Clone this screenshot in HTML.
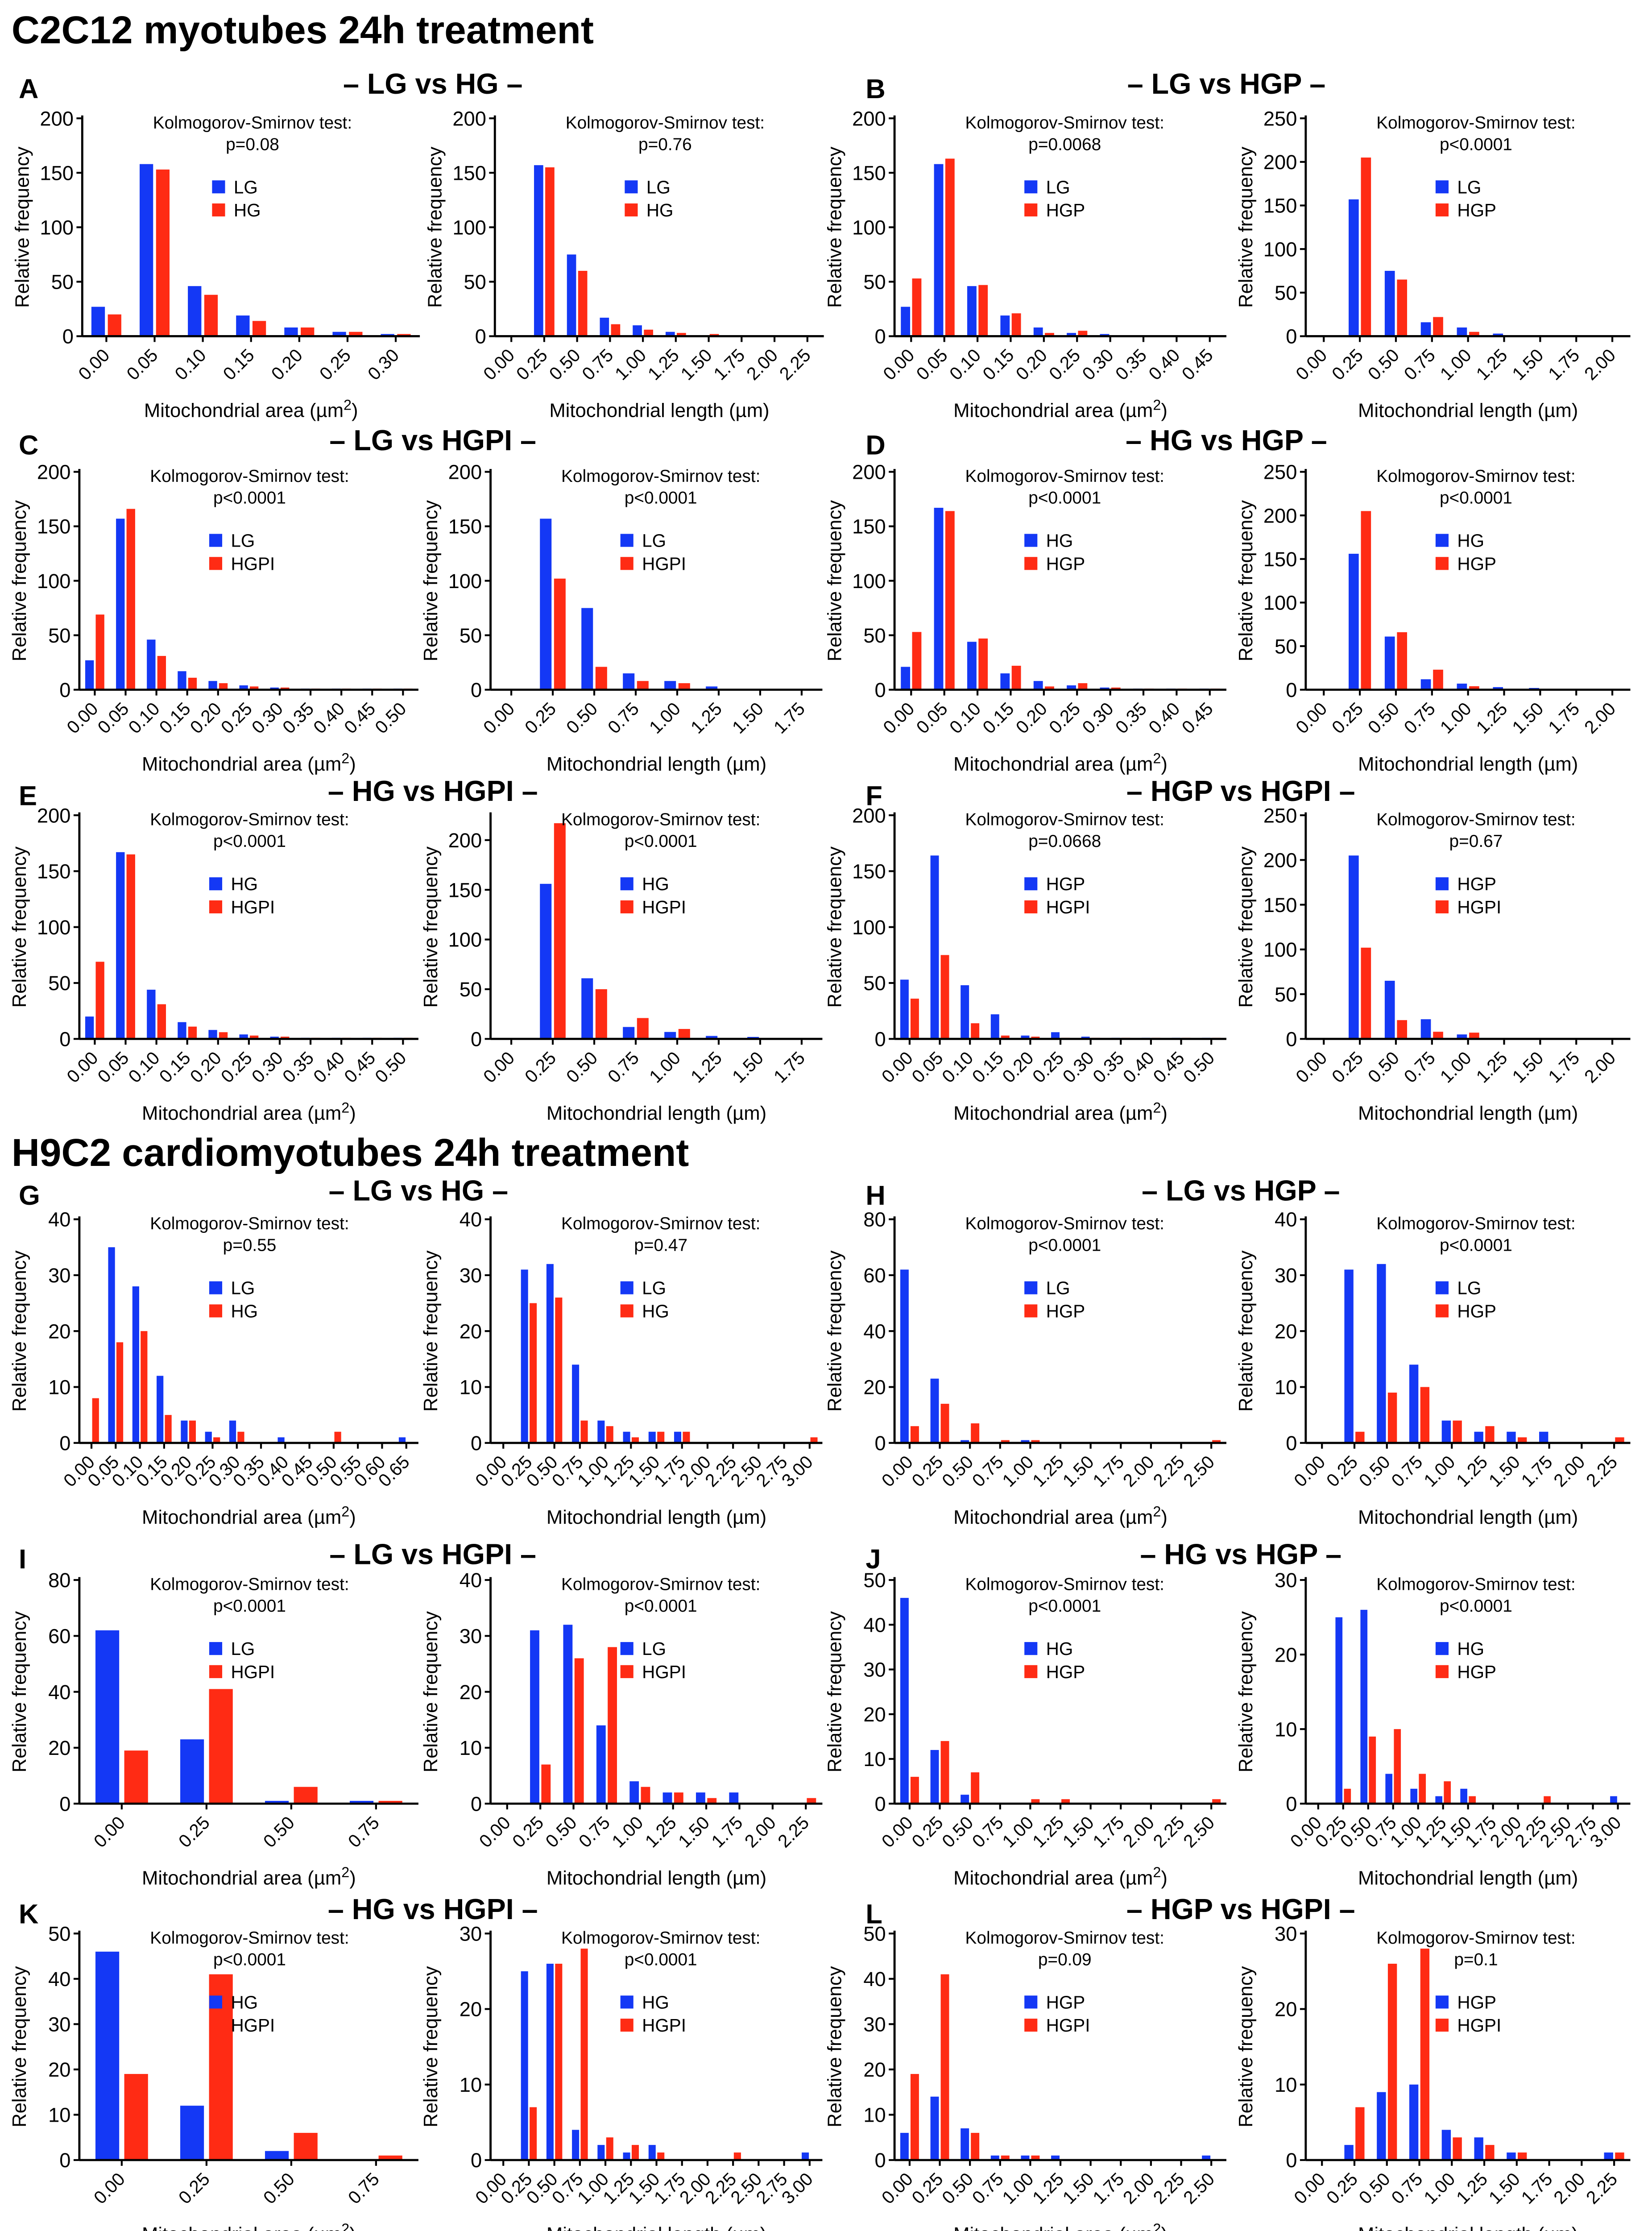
<!DOCTYPE html>
<html><head><meta charset="utf-8">
<style>
html,body{margin:0;padding:0;background:#fff;width:3703px;height:5090px;overflow:hidden;}
svg{display:block;font-family:"Liberation Sans",Arial,sans-serif;}
</style></head>
<body>
<svg id="fig" xmlns="http://www.w3.org/2000/svg" width="3703" height="5090" viewBox="0 0 1145 1574" preserveAspectRatio="none">
<text x="8" y="30" font-size="27" font-weight="bold">C2C12 myotubes 24h treatment</text>
<text x="8" y="808" font-size="27" font-weight="bold">H9C2 cardiomyotubes 24h treatment</text>
</svg>
<script>
// ---- data arrays ----
const catsArea10=["0.00","0.05","0.10","0.15","0.20","0.25","0.30","0.35","0.40","0.45"];
const catsArea11=["0.00","0.05","0.10","0.15","0.20","0.25","0.30","0.35","0.40","0.45","0.50"];
const catsA1=["0.00","0.05","0.10","0.15","0.20","0.25","0.30"];
const catsG1=["0.00","0.05","0.10","0.15","0.20","0.25","0.30","0.35","0.40","0.45","0.50","0.55","0.60","0.65"];
const catsLen175=["0.00","0.25","0.50","0.75","1.00","1.25","1.50","1.75"];
const catsLen200=["0.00","0.25","0.50","0.75","1.00","1.25","1.50","1.75","2.00"];
const catsLen225=["0.00","0.25","0.50","0.75","1.00","1.25","1.50","1.75","2.00","2.25"];
const catsLen250=["0.00","0.25","0.50","0.75","1.00","1.25","1.50","1.75","2.00","2.25","2.50"];
const catsLen300=["0.00","0.25","0.50","0.75","1.00","1.25","1.50","1.75","2.00","2.25","2.50","2.75","3.00"];
const catsArea4=["0.00","0.25","0.50","0.75"];

const blueA1=[27,158,46,19,8,4,2]; const redA1=[20,153,38,14,8,4,2];
const blueA2=[0,157,75,17,10,4,0,0,0,0]; const redA2=[0,155,60,11,6,3,2,0,0,0];
const blueB1=[27,158,46,19,8,3,2,1,1,1]; const redB1=[53,163,47,21,3,5,1,1,1,1];
const blueB2=[0,157,75,16,10,3,1,0,0]; const redB2=[0,205,65,22,5,1,0,0,0];
const blueC1=[27,157,46,17,8,4,2,1,1,1,1]; const redC1=[69,166,31,11,6,3,2,1,1,1,1];
const blueC2=[0,157,75,15,8,3,0,0]; const redC2=[0,102,21,8,6,0,0,0];
const blueD1=[21,167,44,15,8,4,2,1,1,1]; const redD1=[53,164,47,22,3,6,2,1,1,1];
const blueD2=[0,156,61,12,7,3,2,0,0]; const redD2=[0,205,66,23,4,1,0,0,0];
const blueE1=[20,167,44,15,8,4,2,1,1,1,1]; const redE1=[69,165,31,11,6,3,2,1,1,1,1];
const blueE2=[0,156,61,12,7,3,2,0]; const redE2=[0,217,50,21,10,1,0,0];
const blueF1=[53,164,48,22,3,6,2,1,1,1,1]; const redF1=[36,75,14,3,2,1,1,1,1,1,1];
const blueF2=[0,205,65,22,5,1,0,0,0]; const redF2=[0,102,21,8,7,0,0,0,0];
const blueG1=[0,35,28,12,4,2,4,0,1,0,0,0,0,1]; const redG1=[8,18,20,5,4,1,2,0,0,0,2,0,0,0];
const blueG2=[0,31,32,14,4,2,2,2,0,0,0,0,0]; const redG2=[0,25,26,4,3,1,2,2,0,0,0,0,1];
const blueH1=[62,23,1,0,1,0,0,0,0,0,0]; const redH1=[6,14,7,1,1,0,0,0,0,0,1];
const blueH2=[0,31,32,14,4,2,2,2,0,0]; const redH2=[0,2,9,10,4,3,1,0,0,1];
const blueI1=[62,23,1,1]; const redI1=[19,41,6,1];
const blueI2=[0,31,32,14,4,2,2,2,0,0]; const redI2=[0,7,26,28,3,2,1,0,0,1];
const blueJ1=[46,12,2,0,0,0,0,0,0,0,0]; const redJ1=[6,14,7,0,1,1,0,0,0,0,1];
const blueJ2=[0,25,26,4,2,1,2,0,0,0,0,0,1]; const redJ2=[0,2,9,10,4,3,1,0,0,1,0,0,0];
const blueK1=[46,12,2,0]; const redK1=[19,41,6,1];
const blueK2=[0,25,26,4,2,1,2,0,0,0,0,0,1]; const redK2=[0,7,26,28,3,2,1,0,0,1,0,0,0];
const blueL1=[6,14,7,1,1,1,0,0,0,0,1]; const redL1=[19,41,6,1,1,0,0,0,0,0,0];
const blueL2=[0,2,9,10,4,3,1,0,0,1]; const redL2=[0,7,26,28,3,2,1,0,0,1];

const pvals=["p=0.08","p=0.76","p=0.0068","p<0.0001","p<0.0001","p<0.0001","p<0.0001","p<0.0001","p<0.0001","p<0.0001","p=0.0668","p=0.67","p=0.55","p=0.47","p<0.0001","p<0.0001","p<0.0001","p<0.0001","p<0.0001","p<0.0001","p<0.0001","p<0.0001","p=0.09","p=0.1"];
const legends=[["LG","HG"],["LG","HG"],["LG","HGP"],["LG","HGP"],["LG","HGPI"],["LG","HGPI"],["HG","HGP"],["HG","HGP"],["HG","HGPI"],["HG","HGPI"],["HGP","HGPI"],["HGP","HGPI"],["LG","HG"],["LG","HG"],["LG","HGP"],["LG","HGP"],["LG","HGPI"],["LG","HGPI"],["HG","HGP"],["HG","HGP"],["HG","HGPI"],["HG","HGPI"],["HGP","HGPI"],["HGP","HGPI"]];

// ---- layout (positions, not data) ----
const rows=[[82,233],[327,478],[565,720],[845,1000],[1095,1250],[1340,1497]];
const xs=[[57,291],[343,571],[620,850],[905,1130]];
const xsB=[[55,290],[340,570],[620,850],[905,1130]];
const panels=[
 ["A1",catsA1,blueA1,redA1,200,50,0,0,1],["A2",catsLen225,blueA2,redA2,200,50,0,1,0],
 ["B1",catsArea10,blueB1,redB1,200,50,0,2,1],["B2",catsLen200,blueB2,redB2,250,50,0,3,0],
 ["C1",catsArea11,blueC1,redC1,200,50,1,0,1],["C2",catsLen175,blueC2,redC2,200,50,1,1,0],
 ["D1",catsArea10,blueD1,redD1,200,50,1,2,1],["D2",catsLen200,blueD2,redD2,250,50,1,3,0],
 ["E1",catsArea11,blueE1,redE1,200,50,2,0,1],["E2",catsLen175,blueE2,redE2,225,50,2,1,0],
 ["F1",catsArea11,blueF1,redF1,200,50,2,2,1],["F2",catsLen200,blueF2,redF2,250,50,2,3,0],
 ["G1",catsG1,blueG1,redG1,40,10,3,0,1],["G2",catsLen300,blueG2,redG2,40,10,3,1,0],
 ["H1",catsLen250,blueH1,redH1,80,20,3,2,1],["H2",catsLen225,blueH2,redH2,40,10,3,3,0],
 ["I1",catsArea4,blueI1,redI1,80,20,4,0,1],["I2",catsLen225,blueI2,redI2,40,10,4,1,0],
 ["J1",catsLen250,blueJ1,redJ1,50,10,4,2,1],["J2",catsLen300,blueJ2,redJ2,30,10,4,3,0],
 ["K1",catsArea4,blueK1,redK1,50,10,5,0,1],["K2",catsLen300,blueK2,redK2,30,10,5,1,0],
 ["L1",catsLen250,blueL1,redL1,50,10,5,2,1],["L2",catsLen225,blueL2,redL2,30,10,5,3,0]
];
const titles=[["A","– LG vs HG –",300,65],["B","– LG vs HGP –",850,65],["C","– LG vs HGPI –",300,312],["D","– HG vs HGP –",850,312],["E","– HG vs HGPI –",300,555],["F","– HGP vs HGPI –",860,555],["G","– LG vs HG –",290,832],["H","– LG vs HGP –",860,832],["I","– LG vs HGPI –",300,1084],["J","– HG vs HGP –",860,1084],["K","– HG vs HGPI –",300,1330],["L","– HGP vs HGPI –",860,1330]];

const NS="http://www.w3.org/2000/svg";
const svg=document.getElementById('fig');
function mk(tag,attrs,parent){const e=document.createElementNS(NS,tag);for(const k in attrs)e.setAttribute(k,attrs[k]);(parent||svg).appendChild(e);return e;}
const BLUE="#1438f5",RED="#ff2b14";

titles.forEach((t,i)=>{
 const col=i%2;
 const l=mk('text',{x:col?600:13,y:t[3]+3,'font-size':19,'font-weight':'bold'});
 
 
 l.textContent=t[0];
 const tt=mk('text',{x:t[2],y:t[3],'font-size':20,'font-weight':'bold','text-anchor':'middle'});
 
 
 tt.textContent=t[1];
});

panels.forEach((p,pi)=>{
 const [id,cats,blue,red,ymax,step,row,col,isArea]=p;
 const xr=(row===0?xs:xsB)[col];
 const x0=xr[0],x1=xr[1],top=rows[row][0],base=rows[row][1];
 const g=mk('g',{});
 
 
 const N=cats.length, w=(x1-x0)/N;
 const xC=i=>x0+(i+0.5)*w;
 const yS=v=>base-(v/ymax)*(base-top);
 for(let i=0;i<N;i++){
  const bw=w*0.28;
  const b=mk('rect',{x:xC(i)-w*0.31,y:yS(blue[i]),width:bw,height:Math.max(0,base-yS(blue[i])),fill:BLUE},g);
  
  
  const r=mk('rect',{x:xC(i)+w*0.03,y:yS(red[i]),width:bw,height:Math.max(0,base-yS(red[i])),fill:RED},g);
  
  
  mk('line',{x1:xC(i),x2:xC(i),y1:base,y2:base+4,stroke:'#000','stroke-width':1.3},g);
  const tl=mk('text',{x:xC(i)+3,y:base+14,'font-size':12.5,'text-anchor':'end',transform:`rotate(-45 ${xC(i)+3} ${base+14})`},g);
  
  
  tl.textContent=cats[i];
 }
 mk('line',{x1:x0,x2:x1,y1:base,y2:base,stroke:'#000','stroke-width':1.5},g);
 mk('line',{x1:x0,x2:x0,y1:top-2,y2:base,stroke:'#000','stroke-width':1.5},g);
 for(let v=0;v<=ymax+0.001;v+=step){
  mk('line',{x1:x0-4,x2:x0,y1:yS(v),y2:yS(v),stroke:'#000','stroke-width':1.3},g);
  const yl=mk('text',{x:x0-6,y:yS(v)+5,'font-size':14,'text-anchor':'end'},g);
  
  
  yl.textContent=v;
 }
 const yt=mk('text',{x:x0-37,y:(top+base)/2,'font-size':13.5,'text-anchor':'middle',transform:`rotate(-90 ${x0-37} ${(top+base)/2})`},g);
 
 
 yt.textContent='Relative frequency';
 const xt=mk('text',{x:(x0+x1)/2,y:base+56,'font-size':13.5,'text-anchor':'middle'},g);
 
 
 if(isArea){xt.textContent='Mitochondrial area (µm';const s=mk('tspan',{dy:-5,'font-size':10},xt);s.textContent='2';const s2=mk('tspan',{dy:5},xt);s2.textContent=')';}
 else xt.textContent='Mitochondrial length (µm)';
 const kc=x0+118;
 const k1=mk('text',{x:kc,y:top+7,'font-size':12,'text-anchor':'middle'},g);
 
 
 k1.textContent='Kolmogorov-Smirnov test:';
 const k2=mk('text',{x:kc,y:top+22,'font-size':12,'text-anchor':'middle'},g);
 
 
 k2.textContent=pvals[pi];
 const lx=x0+90, ly=top+48;
 [[BLUE,legends[pi][0]],[RED,legends[pi][1]]].forEach((e,j)=>{
  const sq=mk('rect',{x:lx,y:ly+j*16-5,width:9,height:9,fill:e[0]},g);
  
  
  const lt=mk('text',{x:lx+15,y:ly+j*16+4,'font-size':12.5},g);
  
  
  lt.textContent=e[1];
 });
});
</script>
</body></html>
